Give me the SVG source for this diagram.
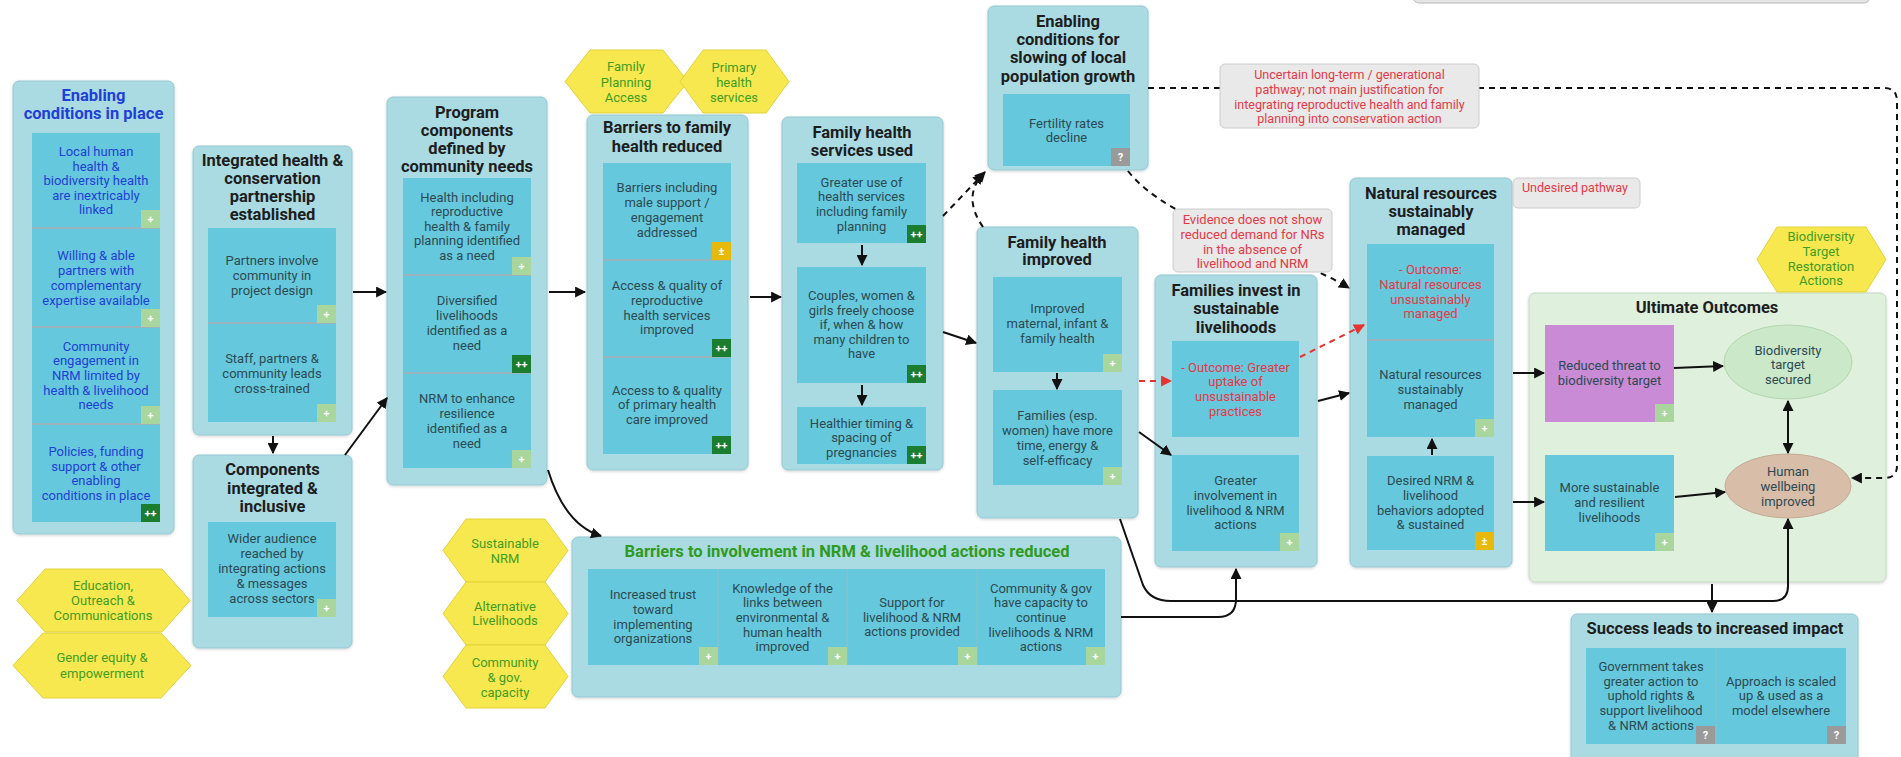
<svg xmlns="http://www.w3.org/2000/svg" width="1901" height="757" viewBox="0 0 1901 757">
<defs>
<style>
text{font-family:Roboto,"Liberation Sans",Arial,sans-serif}
.box{fill:#aadbe3;stroke:#94c8d2;stroke-width:1}
.in{fill:#66c8dc}
.sep{stroke:#cfa0a0;stroke-width:1}
.t{font-weight:700;font-size:16.5px;fill:#1d1d1d;text-anchor:middle}
.x{font-size:13px;fill:#2c4a52;text-anchor:middle}
.xb{fill:#1f3fd6}
.xr{fill:#e53946}
.tg{fill:#2f9a1c}
.hex{fill:#f7e84f;stroke:#e2d23c;stroke-width:1}
.hx{font-size:13px;fill:#3f9d24;text-anchor:middle}
.bl{fill:#a8d69c}
.bd{fill:#1b7d2f}
.by{fill:#e7b90b}
.bq{fill:#9a9a9a}
.bt{font-size:11px;font-weight:700;fill:#ffffff;text-anchor:middle}
.note{fill:#e9e9e9;stroke:#cccccc;stroke-width:1}
.nt{font-size:12.5px;fill:#e53946;text-anchor:middle}
.c{fill:none;stroke:#111;stroke-width:2}
.d{stroke-dasharray:6 5}
.r{fill:none;stroke:#e8322f;stroke-width:2;stroke-dasharray:6 5}
</style>
<marker id="ah" viewBox="0 0 10 10" refX="9" refY="5" markerWidth="11" markerHeight="11" markerUnits="userSpaceOnUse" orient="auto-start-reverse"><path d="M0,0 L10,5 L0,10 z" fill="#111"/></marker>
<marker id="ahr" viewBox="0 0 10 10" refX="9" refY="5" markerWidth="11" markerHeight="11" markerUnits="userSpaceOnUse" orient="auto"><path d="M0,0 L10,5 L0,10 z" fill="#e8322f"/></marker>
<filter id="sh" x="-5%" y="-5%" width="110%" height="110%"><feDropShadow dx="0" dy="1" stdDeviation="1.5" flood-color="#000" flood-opacity="0.18"/></filter>
</defs>

<rect width="1901" height="757" fill="#ffffff"/>

<!-- partly visible panel at the top edge -->
<rect x="1413" y="-30" width="457" height="33" rx="6" fill="#e4e4e4" stroke="#b9b9b9"/>

<!-- Enabling conditions in place -->
<g id="n-enabling">
<rect class="box" x="13" y="81" width="161" height="453" rx="6" filter="url(#sh)"/>
<text class="t xb"><tspan x="93.5" y="101">Enabling</tspan><tspan x="93.5" y="119">conditions in place</tspan></text>
<rect class="in" x="32" y="133" width="128" height="389"/>
<line class="sep" x1="32" y1="228" x2="160" y2="228"/>
<line class="sep" x1="32" y1="327" x2="160" y2="327"/>
<line class="sep" x1="32" y1="424" x2="160" y2="424"/>
<text class="x xb"><tspan x="96" y="156">Local human</tspan><tspan x="96" y="170.5">health &amp;</tspan><tspan x="96" y="185">biodiversity health</tspan><tspan x="96" y="199.5">are inextricably</tspan><tspan x="96" y="214">linked</tspan></text>
<text class="x xb"><tspan x="96" y="259.5">Willing &amp; able</tspan><tspan x="96" y="274.5">partners with</tspan><tspan x="96" y="289.5">complementary</tspan><tspan x="96" y="304.5">expertise available</tspan></text>
<text class="x xb"><tspan x="96" y="350.5">Community</tspan><tspan x="96" y="365">engagement in</tspan><tspan x="96" y="379.5">NRM limited by</tspan><tspan x="96" y="394.5">health &amp; livelihood</tspan><tspan x="96" y="409">needs</tspan></text>
<text class="x xb"><tspan x="96" y="455.5">Policies, funding</tspan><tspan x="96" y="470.5">support &amp; other</tspan><tspan x="96" y="484.5">enabling</tspan><tspan x="96" y="499.5">conditions in place</tspan></text>
<rect class="bl" x="141" y="210" width="19" height="18"/><text class="bt" x="150.5" y="223">+</text>
<rect class="bl" x="141" y="309" width="19" height="18"/><text class="bt" x="150.5" y="322">+</text>
<rect class="bl" x="141" y="406" width="19" height="18"/><text class="bt" x="150.5" y="419">+</text>
<rect class="bd" x="141" y="504" width="19" height="18"/><text class="bt" x="150.5" y="517">++</text>
</g>

<!-- Integrated health & conservation partnership established -->
<g id="n-partnership">
<rect class="box" x="193" y="146" width="159" height="289" rx="6" filter="url(#sh)"/>
<text class="t"><tspan x="272.5" y="166">Integrated health &amp;</tspan><tspan x="272.5" y="184">conservation</tspan><tspan x="272.5" y="202">partnership</tspan><tspan x="272.5" y="220">established</tspan></text>
<rect class="in" x="208" y="228" width="128" height="194"/>
<line class="sep" x1="208" y1="323" x2="336" y2="323"/>
<text class="x"><tspan x="272" y="264.5">Partners involve</tspan><tspan x="272" y="279.5">community in</tspan><tspan x="272" y="294.5">project design</tspan></text>
<text class="x"><tspan x="272" y="362.5">Staff, partners &amp;</tspan><tspan x="272" y="377.5">community leads</tspan><tspan x="272" y="392.5">cross-trained</tspan></text>
<rect class="bl" x="317" y="305" width="19" height="18"/><text class="bt" x="326.5" y="318">+</text>
<rect class="bl" x="317" y="404" width="19" height="18"/><text class="bt" x="326.5" y="417">+</text>
</g>

<!-- Components integrated & inclusive -->
<g id="n-components">
<rect class="box" x="193" y="455" width="159" height="193" rx="6" filter="url(#sh)"/>
<text class="t"><tspan x="272.5" y="475">Components</tspan><tspan x="272.5" y="494">integrated &amp;</tspan><tspan x="272.5" y="512">inclusive</tspan></text>
<rect class="in" x="208" y="522" width="128" height="95"/>
<text class="x"><tspan x="272" y="542.5">Wider audience</tspan><tspan x="272" y="557.5">reached by</tspan><tspan x="272" y="572.5">integrating actions</tspan><tspan x="272" y="587.5">&amp; messages</tspan><tspan x="272" y="602.5">across sectors</tspan></text>
<rect class="bl" x="317" y="599" width="19" height="18"/><text class="bt" x="326.5" y="612">+</text>
</g>

<!-- strategy hexagons, left -->
<g id="n-education">
<polygon class="hex" points="17,600.5 45,569 162,569 190,600.5 162,632 45,632"/>
<text class="hx"><tspan x="103" y="589.5">Education,</tspan><tspan x="103" y="604.5">Outreach &amp;</tspan><tspan x="103" y="619.5">Communications</tspan></text>
</g>
<g id="n-gender">
<polygon class="hex" points="13,665.5 43,633 161,633 191,665.5 161,698 43,698"/>
<text class="hx"><tspan x="102" y="661.5">Gender equity &amp;</tspan><tspan x="102" y="677.5">empowerment</tspan></text>
</g>

<!-- Program components defined by community needs -->
<g id="n-program">
<rect class="box" x="387" y="97" width="160" height="388" rx="6" filter="url(#sh)"/>
<text class="t"><tspan x="467" y="118">Program</tspan><tspan x="467" y="136">components</tspan><tspan x="467" y="154">defined by</tspan><tspan x="467" y="172">community needs</tspan></text>
<rect class="in" x="403" y="178" width="128" height="290"/>
<line class="sep" x1="403" y1="275" x2="531" y2="275"/>
<line class="sep" x1="403" y1="373" x2="531" y2="373"/>
<text class="x"><tspan x="467" y="201.5">Health including</tspan><tspan x="467" y="216">reproductive</tspan><tspan x="467" y="230.5">health &amp; family</tspan><tspan x="467" y="245">planning identified</tspan><tspan x="467" y="259.5">as a need</tspan></text>
<text class="x"><tspan x="467" y="304.5">Diversified</tspan><tspan x="467" y="319.5">livelihoods</tspan><tspan x="467" y="334.5">identified as a</tspan><tspan x="467" y="349.5">need</tspan></text>
<text class="x"><tspan x="467" y="402.5">NRM to enhance</tspan><tspan x="467" y="417.5">resilience</tspan><tspan x="467" y="432.5">identified as a</tspan><tspan x="467" y="447.5">need</tspan></text>
<rect class="bl" x="512" y="257" width="19" height="18"/><text class="bt" x="521.5" y="270">+</text>
<rect class="bd" x="512" y="355" width="19" height="18"/><text class="bt" x="521.5" y="368">++</text>
<rect class="bl" x="512" y="450" width="19" height="18"/><text class="bt" x="521.5" y="463">+</text>
</g>

<!-- strategy hexagons, top -->
<g id="n-fp-access">
<polygon class="hex" points="565,81.5 590,50 663,50 688,81.5 663,113 590,113"/>
<text class="hx"><tspan x="626" y="70.5">Family</tspan><tspan x="626" y="86.5">Planning</tspan><tspan x="626" y="101.5">Access</tspan></text>
</g>
<g id="n-primary">
<polygon class="hex" points="680,81.5 703,50 766,50 789,81.5 766,113 703,113"/>
<text class="hx"><tspan x="734" y="71.5">Primary</tspan><tspan x="734" y="86.5">health</tspan><tspan x="734" y="101.5">services</tspan></text>
</g>

<!-- Barriers to family health reduced -->
<g id="n-barriers-fh">
<rect class="box" x="587" y="115" width="161" height="355" rx="6" filter="url(#sh)"/>
<text class="t"><tspan x="667" y="133">Barriers to family</tspan><tspan x="667" y="152">health reduced</tspan></text>
<rect class="in" x="603" y="163" width="128" height="291"/>
<line class="sep" x1="603" y1="260" x2="731" y2="260"/>
<line class="sep" x1="603" y1="357" x2="731" y2="357"/>
<text class="x"><tspan x="667" y="191.5">Barriers including</tspan><tspan x="667" y="206.5">male support /</tspan><tspan x="667" y="221.5">engagement</tspan><tspan x="667" y="236.5">addressed</tspan></text>
<text class="x"><tspan x="667" y="289.5">Access &amp; quality of</tspan><tspan x="667" y="304.5">reproductive</tspan><tspan x="667" y="319.5">health services</tspan><tspan x="667" y="333.5">improved</tspan></text>
<text class="x"><tspan x="667" y="394.5">Access to &amp; quality</tspan><tspan x="667" y="408.5">of primary health</tspan><tspan x="667" y="423.5">care improved</tspan></text>
<rect class="by" x="712" y="242" width="19" height="18"/><text class="bt" x="721.5" y="255">±</text>
<rect class="bd" x="712" y="339" width="19" height="18"/><text class="bt" x="721.5" y="352">++</text>
<rect class="bd" x="712" y="436" width="19" height="18"/><text class="bt" x="721.5" y="449">++</text>
</g>

<!-- Family health services used -->
<g id="n-services">
<rect class="box" x="782" y="117" width="161" height="353" rx="6" filter="url(#sh)"/>
<text class="t"><tspan x="862" y="138">Family health</tspan><tspan x="862" y="156">services used</tspan></text>
<rect class="in" x="797" y="163" width="129" height="80"/>
<rect class="in" x="797" y="267" width="129" height="116"/>
<rect class="in" x="797" y="407" width="129" height="57"/>
<text class="x"><tspan x="861.5" y="186.5">Greater use of</tspan><tspan x="861.5" y="200.5">health services</tspan><tspan x="861.5" y="215.5">including family</tspan><tspan x="861.5" y="230.5">planning</tspan></text>
<text class="x"><tspan x="861.5" y="299.5">Couples, women &amp;</tspan><tspan x="861.5" y="314.5">girls freely choose</tspan><tspan x="861.5" y="328.5">if, when &amp; how</tspan><tspan x="861.5" y="343.5">many children to</tspan><tspan x="861.5" y="357.5">have</tspan></text>
<text class="x"><tspan x="861.5" y="427.5">Healthier timing &amp;</tspan><tspan x="861.5" y="441.5">spacing of</tspan><tspan x="861.5" y="456.5">pregnancies</tspan></text>
<rect class="bd" x="907" y="225" width="19" height="18"/><text class="bt" x="916.5" y="238">++</text>
<rect class="bd" x="907" y="365" width="19" height="18"/><text class="bt" x="916.5" y="378">++</text>
<rect class="bd" x="907" y="446" width="19" height="18"/><text class="bt" x="916.5" y="459">++</text>
</g>

<!-- Enabling conditions for slowing of local population growth -->
<g id="n-popgrowth">
<rect class="box" x="988" y="6" width="160" height="164" rx="6" filter="url(#sh)"/>
<text class="t"><tspan x="1068" y="27">Enabling</tspan><tspan x="1068" y="45">conditions for</tspan><tspan x="1068" y="63">slowing of local</tspan><tspan x="1068" y="82">population growth</tspan></text>
<rect class="in" x="1003" y="94" width="127" height="72"/>
<text class="x"><tspan x="1066.5" y="127.5">Fertility rates</tspan><tspan x="1066.5" y="141.5">decline</tspan></text>
<rect class="bq" x="1111" y="148" width="19" height="18"/><text class="bt" x="1120.5" y="161">?</text>
</g>

<!-- Family health improved -->
<g id="n-fh-improved">
<rect class="box" x="977" y="227" width="161" height="291" rx="6" filter="url(#sh)"/>
<text class="t"><tspan x="1057" y="248">Family health</tspan><tspan x="1057" y="265">improved</tspan></text>
<rect class="in" x="993" y="277" width="129" height="95"/>
<rect class="in" x="993" y="390" width="129" height="95"/>
<text class="x"><tspan x="1057.5" y="312.5">Improved</tspan><tspan x="1057.5" y="327.5">maternal, infant &amp;</tspan><tspan x="1057.5" y="343">family health</tspan></text>
<text class="x"><tspan x="1057.5" y="419.5">Families (esp.</tspan><tspan x="1057.5" y="434.5">women) have more</tspan><tspan x="1057.5" y="449.5">time, energy &amp;</tspan><tspan x="1057.5" y="464.5">self-efficacy</tspan></text>
<rect class="bl" x="1103" y="354" width="19" height="18"/><text class="bt" x="1112.5" y="367">+</text>
<rect class="bl" x="1103" y="467" width="19" height="18"/><text class="bt" x="1112.5" y="480">+</text>
</g>

<!-- Families invest in sustainable livelihoods -->
<g id="n-invest">
<rect class="box" x="1155" y="275" width="162" height="292" rx="6" filter="url(#sh)"/>
<text class="t"><tspan x="1236" y="296">Families invest in</tspan><tspan x="1236" y="314">sustainable</tspan><tspan x="1236" y="333">livelihoods</tspan></text>
<rect class="in" x="1172" y="341" width="127" height="96"/>
<rect class="in" x="1172" y="455" width="127" height="96"/>
<text class="x xr"><tspan x="1235.5" y="371.5">- Outcome: Greater</tspan><tspan x="1235.5" y="385.5">uptake of</tspan><tspan x="1235.5" y="400.5">unsustainable</tspan><tspan x="1235.5" y="415.5">practices</tspan></text>
<text class="x"><tspan x="1235.5" y="484.5">Greater</tspan><tspan x="1235.5" y="499.5">involvement in</tspan><tspan x="1235.5" y="514.5">livelihood &amp; NRM</tspan><tspan x="1235.5" y="528.5">actions</tspan></text>
<rect class="bl" x="1280" y="533" width="19" height="18"/><text class="bt" x="1289.5" y="546">+</text>
</g>

<!-- Natural resources sustainably managed -->
<g id="n-nr">
<rect class="box" x="1350" y="178" width="162" height="389" rx="6" filter="url(#sh)"/>
<text class="t"><tspan x="1431" y="199">Natural resources</tspan><tspan x="1431" y="217">sustainably</tspan><tspan x="1431" y="235">managed</tspan></text>
<rect class="in" x="1367" y="244" width="127" height="193"/>
<line class="sep" x1="1367" y1="340" x2="1494" y2="340"/>
<rect class="in" x="1367" y="456" width="127" height="94"/>
<text class="x xr"><tspan x="1430.5" y="273.5">- Outcome:</tspan><tspan x="1430.5" y="288.5">Natural resources</tspan><tspan x="1430.5" y="303.5">unsustainably</tspan><tspan x="1430.5" y="317.5">managed</tspan></text>
<text class="x"><tspan x="1430.5" y="378.5">Natural resources</tspan><tspan x="1430.5" y="393.5">sustainably</tspan><tspan x="1430.5" y="408.5">managed</tspan></text>
<text class="x"><tspan x="1430.5" y="484.5">Desired NRM &amp;</tspan><tspan x="1430.5" y="499.5">livelihood</tspan><tspan x="1430.5" y="514.5">behaviors adopted</tspan><tspan x="1430.5" y="528.5">&amp; sustained</tspan></text>
<rect class="bl" x="1475" y="419" width="19" height="18"/><text class="bt" x="1484.5" y="432">+</text>
<rect class="by" x="1475" y="532" width="19" height="18"/><text class="bt" x="1484.5" y="545">±</text>
</g>

<!-- Ultimate Outcomes -->
<g id="n-ultimate">
<rect x="1529" y="293" width="357" height="289" rx="6" fill="#dff0dc" stroke="#c3dbc0" filter="url(#sh)"/>
<text class="t" x="1707" y="313">Ultimate Outcomes</text>
</g>
<g id="n-threat">
<rect x="1545" y="325" width="129" height="97" fill="#c98bd6"/>
<text class="x"><tspan x="1609.5" y="369.5">Reduced threat to</tspan><tspan x="1609.5" y="384.5">biodiversity target</tspan></text>
<rect class="bl" x="1655" y="404" width="19" height="18"/><text class="bt" x="1664.5" y="417">+</text>
</g>
<g id="n-resilient">
<rect class="in" x="1545" y="455" width="129" height="96"/>
<text class="x"><tspan x="1609.5" y="491.5">More sustainable</tspan><tspan x="1609.5" y="506.5">and resilient</tspan><tspan x="1609.5" y="521.5">livelihoods</tspan></text>
<rect class="bl" x="1655" y="533" width="19" height="18"/><text class="bt" x="1664.5" y="546">+</text>
</g>
<g id="n-biodiversity">
<ellipse cx="1788" cy="362" rx="64" ry="37" fill="#cbe8c9" stroke="#b3d6b0"/>
<text class="x"><tspan x="1788" y="354.5">Biodiversity</tspan><tspan x="1788" y="368.5">target</tspan><tspan x="1788" y="383.5">secured</tspan></text>
</g>
<g id="n-wellbeing">
<ellipse cx="1788" cy="486" rx="63" ry="32" fill="#d8bda9" stroke="#c6aa95"/>
<text class="x"><tspan x="1788" y="475.5">Human</tspan><tspan x="1788" y="490.5">wellbeing</tspan><tspan x="1788" y="505.5">improved</tspan></text>
</g>
<g id="n-restoration">
<polygon class="hex" points="1757,259.5 1777,227 1866,227 1886,259.5 1866,292 1777,292"/>
<text class="hx"><tspan x="1821" y="240.5">Biodiversity</tspan><tspan x="1821" y="255.5">Target</tspan><tspan x="1821" y="270.5">Restoration</tspan><tspan x="1821" y="284.5">Actions</tspan></text>
</g>

<!-- Success leads to increased impact -->
<g id="n-success">
<rect class="box" x="1571" y="614" width="287" height="150" rx="6" filter="url(#sh)"/>
<text class="t" x="1715" y="634">Success leads to increased impact</text>
<rect class="in" x="1586" y="648" width="260" height="96"/>
<line x1="1716" y1="648" x2="1716" y2="744" stroke="#8fbfcb" stroke-width="1"/>
<text class="x"><tspan x="1651" y="670.5">Government takes</tspan><tspan x="1651" y="685.5">greater action to</tspan><tspan x="1651" y="699.5">uphold rights &amp;</tspan><tspan x="1651" y="714.5">support livelihood</tspan><tspan x="1651" y="729.5">&amp; NRM actions</tspan></text>
<text class="x"><tspan x="1781" y="685.5">Approach is scaled</tspan><tspan x="1781" y="699.5">up &amp; used as a</tspan><tspan x="1781" y="714.5">model elsewhere</tspan></text>
<rect class="bq" x="1696" y="726" width="19" height="18"/><text class="bt" x="1705.5" y="739">?</text>
<rect class="bq" x="1827" y="726" width="19" height="18"/><text class="bt" x="1836.5" y="739">?</text>
</g>

<!-- Barriers to involvement in NRM & livelihood actions reduced -->
<g id="n-barriers-nrm">
<rect class="box" x="572" y="537" width="549" height="160" rx="6" filter="url(#sh)"/>
<text class="t tg" x="847" y="557">Barriers to involvement in NRM &amp; livelihood actions reduced</text>
<rect class="in" x="588" y="569" width="517" height="96"/>
<line x1="718" y1="569" x2="718" y2="665" stroke="#8fbfcb"/>
<line x1="847" y1="569" x2="847" y2="665" stroke="#8fbfcb"/>
<line x1="977" y1="569" x2="977" y2="665" stroke="#8fbfcb"/>
<text class="x"><tspan x="653" y="598.5">Increased trust</tspan><tspan x="653" y="613.5">toward</tspan><tspan x="653" y="628.5">implementing</tspan><tspan x="653" y="642.5">organizations</tspan></text>
<text class="x"><tspan x="782.5" y="592.5">Knowledge of the</tspan><tspan x="782.5" y="606.5">links between</tspan><tspan x="782.5" y="621.5">environmental &amp;</tspan><tspan x="782.5" y="636.5">human health</tspan><tspan x="782.5" y="650.5">improved</tspan></text>
<text class="x"><tspan x="912" y="606.5">Support for</tspan><tspan x="912" y="621.5">livelihood &amp; NRM</tspan><tspan x="912" y="635.5">actions provided</tspan></text>
<text class="x"><tspan x="1041" y="592.5">Community &amp; gov</tspan><tspan x="1041" y="606.5">have capacity to</tspan><tspan x="1041" y="621.5">continue</tspan><tspan x="1041" y="636.5">livelihoods &amp; NRM</tspan><tspan x="1041" y="650.5">actions</tspan></text>
<rect class="bl" x="699" y="647" width="19" height="18"/><text class="bt" x="708.5" y="660">+</text>
<rect class="bl" x="828" y="647" width="19" height="18"/><text class="bt" x="837.5" y="660">+</text>
<rect class="bl" x="958" y="647" width="19" height="18"/><text class="bt" x="967.5" y="660">+</text>
<rect class="bl" x="1086" y="647" width="19" height="18"/><text class="bt" x="1095.5" y="660">+</text>
</g>
<g id="n-sus-nrm">
<polygon class="hex" points="443,550.5 466,519 545,519 568,550.5 545,582 466,582"/>
<text class="hx"><tspan x="505" y="547.5">Sustainable</tspan><tspan x="505" y="562.5">NRM</tspan></text>
</g>
<g id="n-alt-liv">
<polygon class="hex" points="443,613.5 466,582 545,582 568,613.5 545,645 466,645"/>
<text class="hx"><tspan x="505" y="610.5">Alternative</tspan><tspan x="505" y="624.5">Livelihoods</tspan></text>
</g>
<g id="n-capacity">
<polygon class="hex" points="443,676.5 466,645 545,645 568,676.5 545,708 466,708"/>
<text class="hx"><tspan x="505" y="666.5">Community</tspan><tspan x="505" y="681.5">&amp; gov.</tspan><tspan x="505" y="696.5">capacity</tspan></text>
</g>

<!-- connectors -->
<g id="connectors">
<path class="c" d="M273,436 V453" marker-end="url(#ah)"/>
<path class="c" d="M353,292 H386" marker-end="url(#ah)"/>
<path class="c" d="M345,455 L387,398" marker-end="url(#ah)"/>
<path class="c" d="M549,292 H585" marker-end="url(#ah)"/>
<path class="c" d="M750,297 H781" marker-end="url(#ah)"/>
<path class="c" d="M862,245 V265" marker-end="url(#ah)"/>
<path class="c" d="M862,385 V405" marker-end="url(#ah)"/>
<path class="c" d="M943,332 L976,343" marker-end="url(#ah)"/>
<path class="c d" d="M943,216 L985,172" marker-end="url(#ah)"/>
<path class="c d" d="M983,227 Q962,197 983,174" marker-end="url(#ah)"/>
<path class="c d" d="M1128,171 C1170,225 1290,252 1349,288" marker-end="url(#ah)"/>
<path class="c" d="M1057,373 V389" marker-end="url(#ah)"/>
<path class="r" d="M1139,381 H1171" marker-end="url(#ahr)"/>
<path class="c" d="M1139,432 L1171,455" marker-end="url(#ah)"/>
<path class="r" d="M1300,357 L1364,325" marker-end="url(#ahr)"/>
<path class="c" d="M1318,401 L1349,393" marker-end="url(#ah)"/>
<path class="c" d="M1432,455 V439" marker-end="url(#ah)"/>
<path class="c" d="M1513,373 H1544" marker-end="url(#ah)"/>
<path class="c" d="M1513,502 H1544" marker-end="url(#ah)"/>
<path class="c" d="M1674,368 L1723,366" marker-end="url(#ah)"/>
<path class="c" d="M1675,497 L1725,492" marker-end="url(#ah)"/>
<path class="c" d="M1788,401 V453" marker-start="url(#ah)" marker-end="url(#ah)"/>
<path class="c d" d="M1148,88 H1884 Q1897,88 1897,101 V466 Q1897,478 1884,478 H1852" marker-end="url(#ah)"/>
<path class="c" d="M548,470 Q565,525 601,536" marker-end="url(#ah)"/>
<path class="c" d="M1121,617 H1218 Q1236,617 1236,599 V569" marker-end="url(#ah)"/>
<path class="c" d="M1120,519 L1143,585 Q1150,601 1171,601 H1773 Q1788,601 1788,586 V519" marker-end="url(#ah)"/>
<path class="c" d="M1712,584 V612" marker-end="url(#ah)"/>
</g>

<!-- annotations -->
<g id="n-note-uncertain">
<rect class="note" x="1220" y="64" width="259" height="64" rx="5"/>
<text class="nt"><tspan x="1349.5" y="78.5">Uncertain long-term / generational</tspan><tspan x="1349.5" y="93.5">pathway; not main justification for</tspan><tspan x="1349.5" y="108.5">integrating reproductive health and family</tspan><tspan x="1349.5" y="122.5">planning into conservation action</tspan></text>
</g>
<g id="n-note-evidence">
<rect class="note" x="1173" y="209" width="159" height="63" rx="5"/>
<text class="nt" style="font-size:13px"><tspan x="1252.5" y="223.5">Evidence does not show</tspan><tspan x="1252.5" y="238.5">reduced demand for NRs</tspan><tspan x="1252.5" y="253.5">in the absence of</tspan><tspan x="1252.5" y="267.5">livelihood and NRM</tspan></text>
</g>
<g id="n-note-undesired">
<rect class="note" x="1513" y="178" width="127" height="30" rx="5"/>
<text class="nt" x="1522" y="192" style="text-anchor:start">Undesired pathway</text>
</g>
</svg>
